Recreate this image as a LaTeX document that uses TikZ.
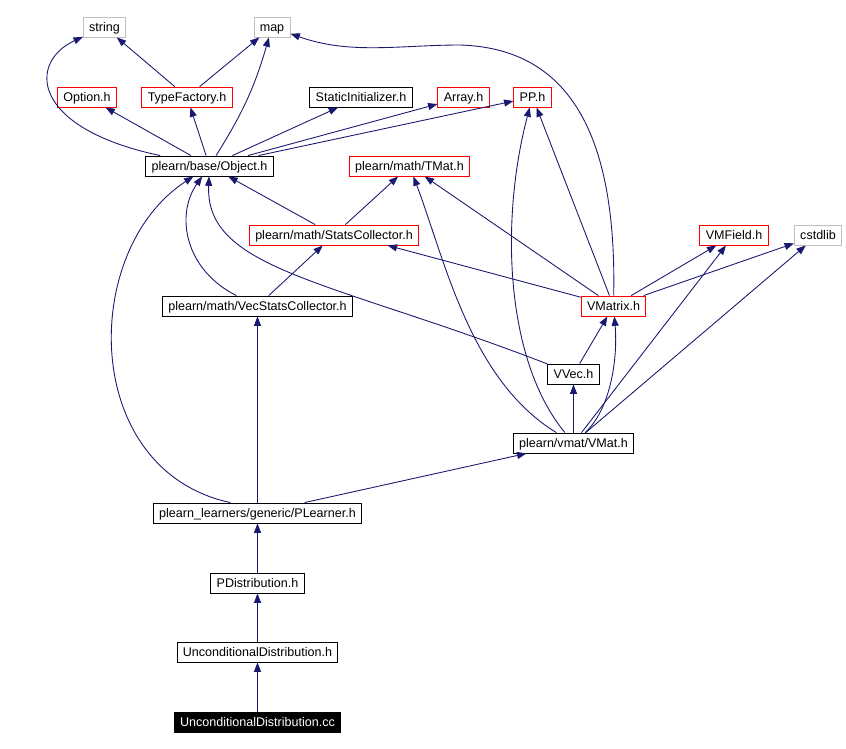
\documentclass[tikz,border=0pt]{standalone}
\usepackage{fontspec}
\setmainfont{Liberation Sans}
\usepackage{tikz}
\usetikzlibrary{arrows.meta, positioning}
\definecolor{Dox_Navy}{HTML}{191970}
\definecolor{Dox_Red}{HTML}{FF0000}
\definecolor{Dox_Gray}{HTML}{BFBFBF}

\begin{document}
\begin{tikzpicture}[x=0.03cm, y=-0.03cm,
    file/.style={draw=black, line width=0.75pt, fill=white, minimum height=0.6cm,
        inner xsep=5pt, inner ysep=0pt, text height=7.7pt, text depth=0.6pt,
        font=\fontsize{10.7}{12}\selectfont},
    redfile/.style={file, draw=Dox_Red},
    sysfile/.style={file, draw=Dox_Gray},
    srcfile/.style={file, fill=black, text=white},
    dep/.style={-{Triangle[length=8pt, width=6pt]}, line width=0.75pt, Dox_Navy}]
    \useasboundingbox (0,0) rectangle (846,748);

    % ===== Row 0: system headers =====
    \node[sysfile] (string) at (104.5,27) {string};
    \node[sysfile] (map) at (272,27) {map};

    % ===== Row 1 =====
    \node[redfile] (option) at (87,97) {Option.h};
    \node[redfile] (typefac) at (187,97) {TypeFactory.h};
    \node[file] (staticin) at (361,97) {StaticInitializer.h};
    \node[redfile] (array) at (463.5,97) {Array.h};
    \node[redfile] (pph) at (532.5,97) {PP.h};

    % ===== Row 2 =====
    \node[file] (objh) at (209.5,166) {plearn/base/Object.h};
    \node[redfile] (tmat) at (409.5,166) {plearn/math/TMat.h};

    % ===== Row 3 =====
    \node[redfile] (statcol) at (334,235) {plearn/math/StatsCollector.h};
    \node[redfile] (vmfield) at (734,235) {VMField.h};
    \node[sysfile] (cstdlib) at (818,235) {cstdlib};

    % ===== Row 4 =====
    \node[file] (vecstat) at (257.5,306) {plearn/math/VecStatsCollector.h};
    \node[redfile] (vmatrix) at (613.5,306) {VMatrix.h};

    % ===== Rows 5 and 6 =====
    \node[file] (vvec) at (573.5,374) {VVec.h};
    \node[file] (vmat) at (573.5,443) {plearn/vmat/VMat.h};

    % ===== Bottom chain =====
    \node[file] (plearner) at (257.5,513) {plearn\_learners/generic/PLearner.h};
    \node[file] (pdist) at (257.5,583) {PDistribution.h};
    \node[file] (uncondh) at (257.5,652) {UnconditionalDistribution.h};
    \node[srcfile] (uncondcc) at (257.5,722) {UnconditionalDistribution.cc};

    % Includes of TypeFactory.h and Object.h
    \draw[dep] (typefac) -- (string);
    \draw[dep] (typefac) -- (map);
    \draw[dep] (objh) .. controls (30,128) and (28,62) .. (string);
    \draw[dep] (objh) to[bend right=8] (map);
    \draw[dep] (objh) -- (option);
    \draw[dep] (objh) -- (typefac);
    \draw[dep] (objh) -- (staticin);
    \draw[dep] (objh) -- (array);
    \draw[dep] (objh) -- (pph);

    % StatsCollector and VecStatsCollector
    \draw[dep] (statcol) -- (objh);
    \draw[dep] (statcol) -- (tmat);
    \draw[dep] (vecstat) .. controls (185,270) and (175,215) .. (objh);
    \draw[dep] (vecstat) -- (statcol);

    % VMatrix.h
    \draw[dep] (vmatrix) .. controls (617,120) and (560,48) .. (460,45)
        .. controls (400,45) and (350,55) .. (map);
    \draw[dep] (vmatrix) -- (pph);
    \draw[dep] (vmatrix) -- (statcol.-11);
    \draw[dep] (vmatrix) -- (tmat);
    \draw[dep] (vmatrix) -- (vmfield);
    \draw[dep] (vmatrix) -- (cstdlib);

    % VVec.h
    \draw[dep] (vvec) .. controls (330,280) and (205,270) .. (objh);
    \draw[dep] (vvec) -- (vmatrix);

    % VMat.h
    \draw[dep] (vmat) .. controls (505,360) and (500,220) .. (pph);
    \draw[dep] (vmat) .. controls (470,380) and (445,260) .. (tmat);
    \draw[dep] (vmat) .. controls (610,410) and (618,360) .. (vmatrix);
    \draw[dep] (vmat) -- (vvec);
    \draw[dep] (vmat) -- (vmfield);
    \draw[dep] (vmat) -- (cstdlib);

    % Learner chain
    \draw[dep] (plearner.159) .. controls (80,470) and (80,250) .. (objh);
    \draw[dep] (plearner) -- (vecstat);
    \draw[dep] (plearner) -- (vmat);
    \draw[dep] (pdist) -- (plearner);
    \draw[dep] (uncondh) -- (pdist);
    \draw[dep] (uncondcc) -- (uncondh);
\end{tikzpicture}
\end{document}
